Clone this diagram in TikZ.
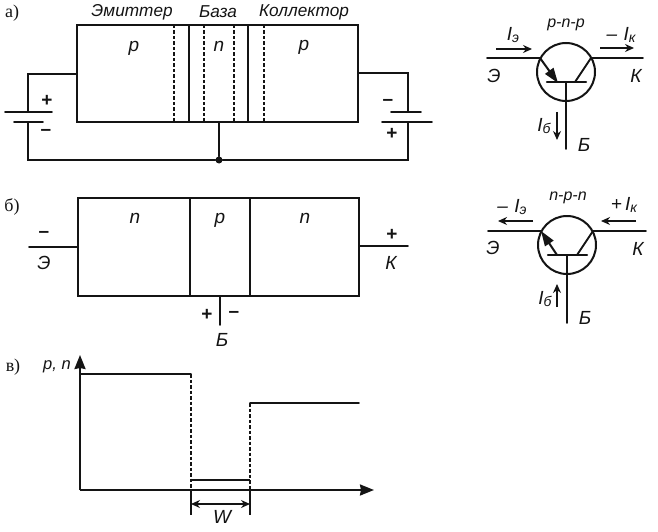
\documentclass[tikz,border=0pt]{standalone}
\usepackage{fontspec}
\setmainfont{Liberation Sans}
\newfontfamily\serifcyr{Liberation Serif}
\usetikzlibrary{arrows.meta}
\definecolor{ink}{gray}{0.08}
\newcommand{\subsc}[1]{\raisebox{-2.5pt}{\fontsize{14}{14}\selectfont #1}}
\tikzset{
  wire/.style={draw=ink,line width=1.9pt,line cap=round},
  thin wire/.style={draw=ink,line width=1.4pt},
  dash wire/.style={draw=ink,line width=1.3pt,dash pattern=on 3.5pt off 2pt},
  region/.style={draw=ink,line width=2pt,rectangle,anchor=north west,inner sep=0pt,outer sep=0pt},
  lab/.style={text=ink,font=\fontsize{19}{19}\selectfont\itshape,inner sep=0pt},
  sym/.style={text=ink,font=\fontsize{19}{19}\selectfont\bfseries,inner sep=0pt},
  head/.style={text=ink,font=\fontsize{17.2}{18}\selectfont\itshape,inner sep=0pt},
  small/.style={text=ink,font=\fontsize{16}{16}\selectfont\itshape,inner sep=0pt},
  part/.style={text=ink,font=\fontsize{18}{18}\selectfont\serifcyr,inner sep=0pt},
  current/.style={draw=ink,line width=1.3pt,-{Stealth[length=9pt,width=8pt]}},
  axis/.style={draw=ink,line width=2.1pt,-{Stealth[length=14pt,width=11pt,inset=1pt]}},
  dot/.style={circle,fill=ink,inner sep=0pt,minimum size=7pt},
  ring/.style={circle,draw=ink,line width=2pt,inner sep=0pt,minimum size=58pt},
  dim/.style={draw=ink,line width=1.3pt,{Stealth[length=9pt,width=8pt]}-{Stealth[length=9pt,width=8pt]}},
  emit/.style={draw=ink,line width=2pt,-{Stealth[length=15pt,width=10pt,inset=0pt]}},
}
\begin{document}
\begin{tikzpicture}[x=1pt,y=-1pt]
\useasboundingbox[fill=white] (0,0) rectangle (658,532);
% --- a)
\node[part] (la) at (12,13) {а)};
\node[head] (h1) at (132,12.5) {Эмиттер};
\node[head] (h2) at (218,12) {База};
\node[head] (h3) at (304,12) {Коллектор};
\node[region,minimum width=281pt,minimum height=97pt] (A) at (77,25) {};
\draw[wire] (189,25) -- (189,122) (248,25) -- (248,122);
\draw[dash wire] (174,25) -- (174,122) (204,25) -- (204,122) (234,25) -- (234,122) (264,25) -- (264,122);
\node[lab] (ap1) at (134,48) {p};
\node[lab] (an) at (219,46) {n};
\node[lab] (ap2) at (304,47) {p};
\coordinate (ae) at (77,74);
\coordinate (ac) at (358,73);
\coordinate (ab) at (219,122);
\node[dot] (aj) at (219,160) {};
\draw[wire] (ae) -- (28,74) -- (28,112);
\draw[wire] (5,112) -- (52,112) (14,122) -- (43,122);
\draw[wire] (28,122) -- (28,160) -- (aj);
\draw[wire] (ab) -- (aj);
\draw[wire] (ac) -- (408,73) -- (408,112);
\draw[wire] (391,112) -- (421,112) (382,122) -- (432,122);
\draw[wire] (408,122) -- (408,160) -- (aj);
\node[sym] (s1) at (47,101) {+};
\node[sym] (s2) at (46,132) {–};
\node[sym] (s3) at (388,102) {–};
\node[sym] (s4) at (392,134) {+};
% --- b)
\node[part] (lb) at (12,207) {б)};
\node[region,minimum width=281pt,minimum height=98pt] (B) at (78,198) {};
\draw[wire] (190,198) -- (190,296) (250,198) -- (250,296);
\node[lab] (bn1) at (135,218) {n};
\node[lab] (bp) at (220,220) {p};
\node[lab] (bn2) at (305,218) {n};
\coordinate (be) at (78,247);
\coordinate (bc) at (359,246);
\coordinate (bb) at (220,296);
\draw[wire] (be) -- (29,247);
\draw[wire] (bc) -- (408,246);
\draw[wire] (bb) -- (220,325);
\node[sym] (t1) at (44,234) {–};
\node[lab] (t2) at (44,263) {Э};
\node[sym] (t3) at (392,235) {+};
\node[lab] (t4) at (391,263) {К};
\node[sym] (t5) at (207,315) {+};
\node[sym] (t6) at (234,314) {–};
\node[lab] (t7) at (222,340) {Б};
% --- c)
\node[part] (lc) at (13,367) {в)};
\node[lab,font=\fontsize{16.5}{17}\selectfont\itshape] (pn) at (57,367) {p, n};
\coordinate (O) at (80,490);
\coordinate (Oy) at (80,355);
\coordinate (Ox) at (374,490);
\draw[axis] (O) -- (Oy);
\draw[axis] (O) -- (Ox);
\draw[wire] (80,374) -- (191,374);
\draw[dash wire] (191,374) -- (191,490);
\draw[thin wire] (191,480) -- (250,480);
\draw[dash wire] (250,403) -- (250,490);
\draw[wire] (250,403) -- (359,403);
\draw[thin wire] (191,490) -- (191,515) (250,490) -- (250,515);
\draw[dim] (191,504) -- (250,504);
\node[lab,font=\fontsize{19}{19}\selectfont\itshape] (W) at (222,517) {W};
% --- transistor p-n-p
\node[ring] (T1) at (566,72) {};
\coordinate (e1) at (540,58);
\coordinate (c1) at (591,58);
\draw[wire] (487,58) -- (e1);
\draw[wire] (c1) -- (643,58);
\draw[wire,line width=2.4pt] (547,82) -- (586,82);
\draw[wire] (566,82) -- (566,149);
\draw[emit] (e1) -- (558,83);
\draw[wire] (c1) -- (575,82);
\draw[current] (496,49) -- (532,49);
\draw[current] (600,48) -- (634,48);
\draw[current] (557,112) -- (557,140);
\node[small] (x1) at (566,25) {p-n-p};
\node[lab] (x2) at (513,35) {I\subsc{э}};
\node[lab] (x3) at (621,35) {–\,\,I\subsc{к}};
\node[lab] (x4) at (494,76) {Э};
\node[lab] (x5) at (636,76) {К};
\node[lab] (x6) at (544,126) {I\subsc{б}};
\node[lab] (x7) at (584,145) {Б};
% --- transistor n-p-n
\node[ring] (T2) at (567,245) {};
\coordinate (e2) at (541,231);
\coordinate (c2) at (593,231);
\draw[wire] (488,231) -- (e2);
\draw[wire] (c2) -- (646,231);
\draw[wire,line width=2.4pt] (548,255) -- (587,255);
\draw[wire] (567,255) -- (567,323);
\draw[emit] (557,255) -- (e2);
\draw[wire] (c2) -- (577,255);
\draw[current] (533,221) -- (498,221);
\draw[current] (636,221) -- (601,221);
\draw[current] (557,307) -- (557,284);
\node[small] (y1) at (568,198) {n-p-n};
\node[lab] (y2) at (512,207) {–\,\,I\subsc{э}};
\node[lab] (y3) at (624,205) {+\,I\subsc{к}};
\node[lab] (y4) at (493,248) {Э};
\node[lab] (y5) at (638,249) {К};
\node[lab] (y6) at (545,299) {I\subsc{б}};
\node[lab] (y7) at (585,318) {Б};
\end{tikzpicture}
\end{document}
